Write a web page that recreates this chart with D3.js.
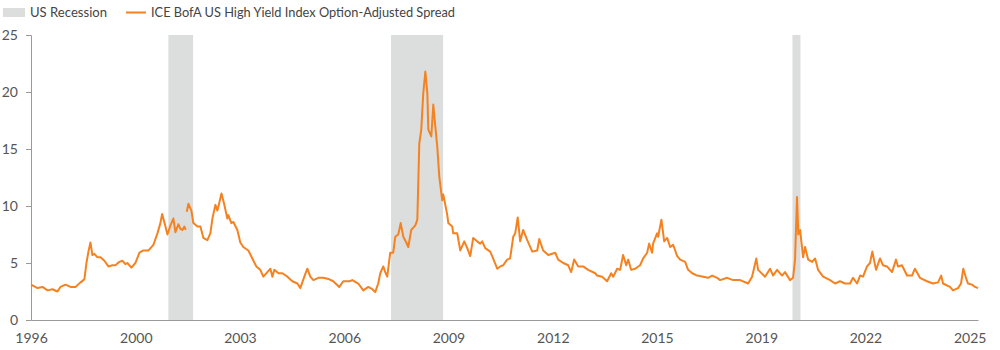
<!DOCTYPE html>
<html>
<head>
<meta charset="utf-8">
<script src="https://cdn.jsdelivr.net/npm/d3@7"></script>
<style>
  html, body { margin: 0; padding: 0; background: #fff; }
  svg { display: block; font-family: Lato, "Open Sans", sans-serif; }
</style>
</head>
<body>
<svg id="chart" width="1000" height="350"></svg>
<script>
// ICE BofA US High Yield Index option-adjusted spread (%): [date, spread]
// A null spread marks the data gap after September 11, 2001.
const spread = [
  ["1996-12-31",3.1],["1997-03-13",2.8],["1997-05-07",2.9],["1997-07-02",2.6],["1997-08-26",2.7],
  ["1997-10-20",2.5],["1997-11-22",2.9],["1998-01-17",3.1],["1998-03-13",2.9],["1998-05-07",2.9],
  ["1998-07-02",3.3],["1998-08-04",3.5],["1998-08-15",3.6],["1998-09-06",5.0],["1998-09-28",6.0],
  ["1998-10-20",6.8],["1998-11-11",5.7],["1998-12-03",5.8],["1999-01-06",5.5],["1999-02-08",5.5],
  ["1999-03-24",5.2],["1999-05-07",4.7],["1999-06-20",4.8],["1999-07-24",4.8],["1999-09-06",5.1],
  ["1999-10-09",5.2],["1999-11-11",4.9],["1999-12-03",5.0],["2000-01-17",4.6],["2000-03-01",5.0],
  ["2000-04-15",5.9],["2000-05-29",6.1],["2000-07-24",6.1],["2000-08-26",6.4],["2000-09-17",6.6],
  ["2000-10-31",7.6],["2000-12-03",8.5],["2000-12-22",9.3],["2001-01-28",8.2],["2001-02-19",7.5],
  ["2001-03-24",8.3],["2001-04-26",8.9],["2001-05-18",7.7],["2001-06-20",8.4],["2001-07-12",8.0],
  ["2001-08-04",7.9],["2001-08-26",8.2],["2001-09-10",7.9],["2001-09-15",null],["2001-09-21",9.5],
  ["2001-10-09",10.2],["2001-11-11",9.6],["2001-12-03",8.5],["2002-01-17",8.2],["2002-02-19",8.2],
  ["2002-03-24",7.2],["2002-05-07",7.0],["2002-06-09",7.6],["2002-07-02",8.9],["2002-08-04",10.1],
  ["2002-08-26",9.6],["2002-09-17",10.3],["2002-10-10",11.1],["2002-11-11",10.1],["2002-12-14",8.9],
  ["2002-12-25",9.2],["2003-01-28",8.5],["2003-02-19",8.6],["2003-04-04",7.9],["2003-05-07",6.8],
  ["2003-06-09",6.4],["2003-08-04",6.1],["2003-09-17",5.4],["2003-10-31",4.7],["2003-12-14",4.4],
  ["2004-01-17",3.8],["2004-03-01",4.2],["2004-04-04",4.5],["2004-04-26",3.8],["2004-05-18",4.4],
  ["2004-07-02",4.1],["2004-08-15",4.1],["2004-10-09",3.8],["2004-12-03",3.4],["2005-01-28",3.2],
  ["2005-03-01",2.8],["2005-04-15",3.8],["2005-05-18",4.5],["2005-06-20",3.8],["2005-07-24",3.5],
  ["2005-09-17",3.7],["2005-11-11",3.7],["2006-01-06",3.6],["2006-03-01",3.4],["2006-05-07",2.9],
  ["2006-06-20",3.4],["2006-08-26",3.4],["2006-09-28",3.5],["2006-12-03",3.2],["2007-01-28",2.6],
  ["2007-03-24",2.9],["2007-05-07",2.7],["2007-06-09",2.45],["2007-07-12",3.2],["2007-08-04",4.1],
  ["2007-09-06",4.7],["2007-09-28",4.2],["2007-10-20",3.8],["2007-11-22",5.9],["2007-12-25",5.9],
  ["2008-01-17",7.3],["2008-02-19",7.5],["2008-03-17",8.5],["2008-04-15",7.3],["2008-05-18",6.8],
  ["2008-06-09",6.4],["2008-07-12",7.9],["2008-08-26",8.3],["2008-09-17",8.8],["2008-10-09",15.5],
  ["2008-10-31",16.7],["2008-11-22",19.9],["2008-12-15",21.8],["2009-01-06",19.9],["2009-01-17",16.7],
  ["2009-02-19",16.1],["2009-03-13",18.9],["2009-04-04",17.0],["2009-04-26",15.2],["2009-05-18",12.6],
  ["2009-06-20",10.5],["2009-07-02",11.0],["2009-08-15",9.2],["2009-08-26",8.5],["2009-10-09",8.2],
  ["2009-10-20",7.6],["2009-12-03",7.6],["2010-01-06",6.1],["2010-02-19",6.9],["2010-03-24",6.3],
  ["2010-04-26",5.6],["2010-05-29",7.2],["2010-07-12",6.9],["2010-08-15",6.7],["2010-09-06",6.9],
  ["2010-10-09",6.3],["2010-12-03",6.0],["2010-12-25",5.6],["2011-02-19",4.5],["2011-03-24",4.7],
  ["2011-04-26",4.8],["2011-06-09",5.3],["2011-07-12",5.4],["2011-08-15",7.3],["2011-09-06",7.6],
  ["2011-10-04",9.0],["2011-10-31",6.9],["2011-12-03",7.9],["2012-01-17",7.0],["2012-03-13",6.0],
  ["2012-05-07",6.1],["2012-05-29",7.1],["2012-07-12",6.1],["2012-09-06",5.7],["2012-11-22",5.9],
  ["2012-12-25",5.3],["2013-02-19",5.0],["2013-04-15",4.8],["2013-05-18",4.2],["2013-06-20",5.3],
  ["2013-08-04",4.7],["2013-09-28",4.7],["2013-11-22",4.4],["2014-02-08",4.1],["2014-03-01",3.9],
  ["2014-04-26",3.8],["2014-06-20",3.4],["2014-08-04",4.1],["2014-08-26",3.8],["2014-10-09",4.5],
  ["2014-11-11",4.4],["2014-12-14",5.7],["2015-01-17",4.8],["2015-02-08",5.3],["2015-03-13",4.4],
  ["2015-04-26",4.5],["2015-06-20",4.8],["2015-07-24",5.4],["2015-09-06",5.9],["2015-09-28",6.7],
  ["2015-10-31",5.9],["2015-11-11",6.7],["2015-12-25",7.6],["2016-01-06",7.3],["2016-02-11",8.8],
  ["2016-03-13",6.9],["2016-04-15",7.2],["2016-05-18",6.4],["2016-06-20",6.6],["2016-08-04",5.6],
  ["2016-09-06",5.3],["2016-10-31",5.1],["2016-12-03",4.4],["2017-01-17",4.1],["2017-03-13",3.9],
  ["2017-05-18",3.8],["2017-07-12",3.7],["2017-08-26",3.9],["2017-10-20",3.7],["2017-11-22",3.5],
  ["2018-02-08",3.7],["2018-04-15",3.5],["2018-07-02",3.5],["2018-09-28",3.2],["2018-11-11",3.8],
  ["2018-12-28",5.4],["2019-01-17",4.4],["2019-04-04",3.8],["2019-05-29",4.5],["2019-07-02",3.9],
  ["2019-08-15",4.4],["2019-10-09",3.9],["2019-11-11",4.2],["2020-01-06",3.5],["2020-02-08",3.7],
  ["2020-03-01",5.3],["2020-03-23",10.8],["2020-04-06",7.5],["2020-04-26",7.9],["2020-05-29",5.5],
  ["2020-06-20",6.4],["2020-07-24",5.3],["2020-09-06",5.1],["2020-10-09",5.4],["2020-11-11",4.4],
  ["2021-01-06",3.8],["2021-03-24",3.5],["2021-05-18",3.2],["2021-07-12",3.4],["2021-09-06",3.2],
  ["2021-10-31",3.2],["2021-12-03",3.7],["2022-01-17",3.2],["2022-02-19",3.9],["2022-03-24",3.8],
  ["2022-05-07",4.7],["2022-06-09",5.0],["2022-07-05",6.0],["2022-08-15",4.4],["2022-09-28",5.4],
  ["2022-10-31",4.8],["2022-12-14",4.7],["2023-02-08",4.2],["2023-03-24",5.3],["2023-04-15",4.7],
  ["2023-05-29",4.8],["2023-07-24",3.9],["2023-09-17",3.9],["2023-10-20",4.5],["2023-12-14",3.7],
  ["2024-03-01",3.4],["2024-05-07",3.2],["2024-07-02",3.3],["2024-08-05",3.9],["2024-08-26",3.2],
  ["2024-11-11",2.9],["2024-12-14",2.6],["2025-02-08",2.8],["2025-03-13",3.2],["2025-04-07",4.5],
  ["2025-05-07",3.7],["2025-05-29",3.2],["2025-07-12",3.1],["2025-08-15",2.9],["2025-09-17",2.8]
];

// NBER recession periods
const recessionStarts = ["2001-03-01", "2007-12-01", "2020-02-01"];
const recessionEnds   = ["2001-11-30", "2009-06-30", "2020-04-30"];

// Axis ticks
const xTickDates  = ["1996-12-31","2000-03-05","2003-05-03","2006-07-01","2009-08-28",
                     "2012-10-26","2015-12-24","2019-02-21","2022-04-20","2025-06-17"];
const xTickLabels = ["1996","2000","2003","2006","2009","2012","2015","2019","2022","2025"];
const yTicks = [0, 5, 10, 15, 20, 25];

const legendLabels = ["US Recession", "ICE BofA US High Yield Index Option-Adjusted Spread"];

const parse = d3.utcParse("%Y-%m-%d");
const series = spread.map(([d, v]) => ({ date: parse(d), value: v }));
const recessions = recessionStarts.map((s, i) => ({ start: parse(s), end: parse(recessionEnds[i]) }));

const svg = d3.select("#chart");
const lineColor = "#f58220";
const bandColor = "#dcdedd";
const textColor = "#555";
const axisColor = "#9a9a9a";

const x = d3.scaleUtc()
  .domain([parse("1996-12-31"), parse("2025-09-17")])
  .range([31, 978]);
const y = d3.scaleLinear().domain([0, 25]).range([320, 35]);

// Recession shading
svg.append("g")
  .selectAll("rect")
  .data(recessions)
  .join("rect")
  .attr("x", d => x(d.start))
  .attr("width", d => x(d.end) - x(d.start))
  .attr("y", y(25))
  .attr("height", y(0) - y(25))
  .attr("fill", bandColor);

// Y axis
const yAxis = svg.append("g")
  .attr("transform", "translate(31,0)")
  .call(d3.axisLeft(y).tickValues(yTicks).tickSize(5).tickSizeOuter(5).tickPadding(8));
yAxis.selectAll("path, line").attr("stroke", axisColor);
yAxis.selectAll("text").attr("fill", textColor).style("font-size", "14px")
  .style("font-family", "Lato, sans-serif");

// X axis
const tickDates = xTickDates.map(parse);
const xAxis = svg.append("g")
  .attr("transform", "translate(0,320)")
  .call(d3.axisBottom(x).tickValues(tickDates).tickSize(0).tickSizeOuter(0).tickPadding(13)
    .tickFormat((d, i) => xTickLabels[i]));
xAxis.select(".domain").attr("stroke", axisColor);
xAxis.selectAll("text").attr("fill", textColor).style("font-size", "14px")
  .style("font-family", "Lato, sans-serif");

// Spread line
const line = d3.line()
  .defined(d => d.value !== null)
  .x(d => x(d.date))
  .y(d => y(d.value));

svg.append("path")
  .datum(series)
  .attr("fill", "none")
  .attr("stroke", lineColor)
  .attr("stroke-width", 2)
  .attr("stroke-linejoin", "round")
  .attr("d", line);

// Legend
const legend = svg.append("g").style("font-size", "13.5px").attr("fill", "#444");
legend.append("rect").attr("x", 3).attr("y", 8).attr("width", 22).attr("height", 9).attr("fill", bandColor);
legend.append("text").attr("x", 30).attr("y", 17)
  .attr("textLength", 77).attr("lengthAdjust", "spacingAndGlyphs").text(legendLabels[0]);
legend.append("line").attr("x1", 126).attr("x2", 146).attr("y1", 12.5).attr("y2", 12.5)
  .attr("stroke", lineColor).attr("stroke-width", 2);
legend.append("text").attr("x", 151).attr("y", 17)
  .attr("textLength", 304).attr("lengthAdjust", "spacingAndGlyphs").text(legendLabels[1]);
</script>
</body>
</html>
